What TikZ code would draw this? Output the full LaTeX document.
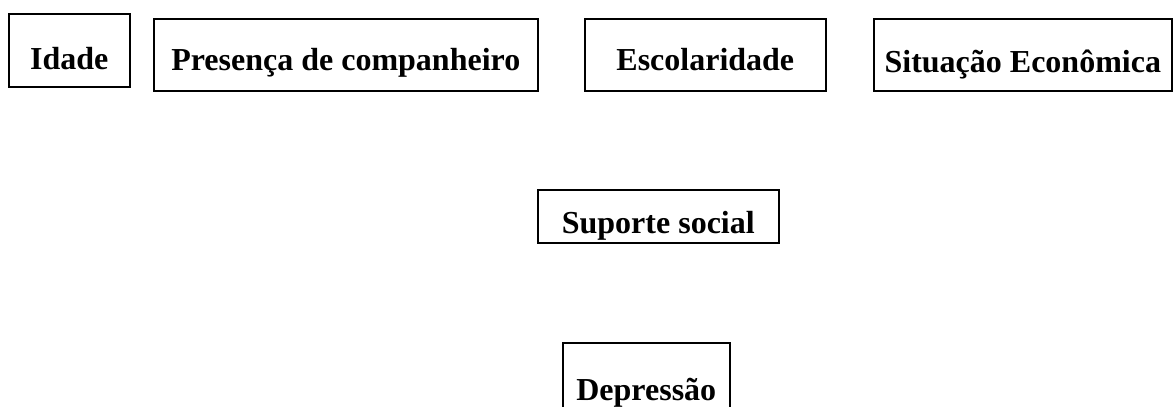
\documentclass[tikz,border=0pt]{standalone}
\usepackage{fontspec}
\setmainfont{Liberation Serif}
\usepackage{tikz}
\tikzstyle{var} = [rectangle, draw, line width=1.6pt, inner sep=0pt, anchor=north west, font=\fontsize{32}{36}\selectfont\bfseries]

\begin{document}
\begin{tikzpicture}[x=1pt,y=1pt]
  \useasboundingbox (0,0) rectangle (1173,-407);
  \node[var, minimum width=121pt, text height=56pt, text depth=17pt] (Idade) at (8,-13) {Idade};
  \node[var, minimum width=384pt, text height=52pt, text depth=20pt] (Companheiro) at (153,-18) {Presença de companheiro};
  \node[var, minimum width=241pt, text height=52pt, text depth=20pt] (Escolaridade) at (584,-18) {Escolaridade};
  \node[var, minimum width=298pt, text height=54pt, text depth=18pt] (Economica) at (873,-18) {Situação Econômica};
  \node[var, minimum width=241pt, text height=44pt, text depth=9pt] (Suporte) at (537,-189) {Suporte social};
  \node[var, minimum width=167pt, text height=58pt, text depth=30pt] (Depressao) at (562,-342) {Depressão};
\end{tikzpicture}
\end{document}
